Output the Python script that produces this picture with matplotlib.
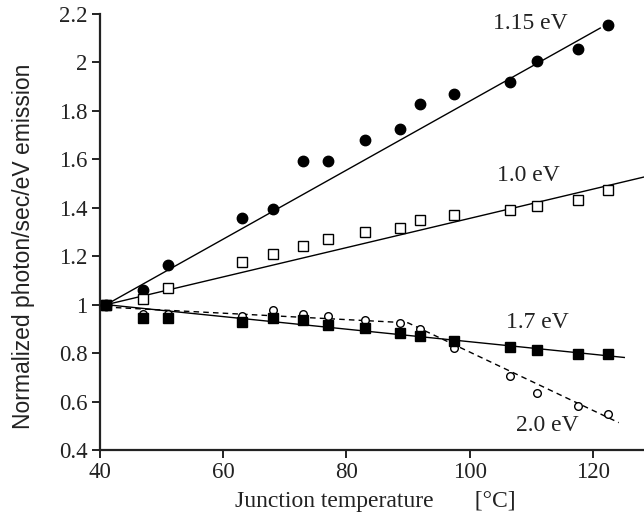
import matplotlib
matplotlib.use("Agg")
import matplotlib.pyplot as plt

# junction temperatures [C] of the measurement points
temps = [41, 47, 51, 63, 68, 73, 77, 83, 88.7, 92, 97.5, 106.5, 111, 117.6, 122.4]

# normalized emission at each photon energy
e_115 = [1.0, 1.06, 1.164, 1.357, 1.396, 1.592, 1.592, 1.679, 1.727, 1.828,
         1.868, 1.919, 2.006, 2.055, 2.154]
e_100 = [1.0, 1.024, 1.069, 1.178, 1.210, 1.241, 1.273, 1.299, 1.318, 1.348,
         1.369, 1.389, 1.406, 1.431, 1.475]
e_170 = [1.0, 0.947, 0.947, 0.930, 0.947, 0.938, 0.917, 0.904, 0.885, 0.870,
         0.848, 0.826, 0.814, 0.796, 0.796]
e_200 = [1.0, 0.96, 0.96, 0.954, 0.978, 0.961, 0.952, 0.937, 0.924, 0.899,
         0.823, 0.706, 0.637, 0.582, 0.550]

# trend lines (end points)
fit_115_t, fit_115_v = [41, 121.2], [1.0, 2.142]
fit_100_t, fit_100_v = [41, 128.3], [1.0, 1.527]
fit_170_t, fit_170_v = [41, 125.1], [1.0, 0.782]
fit_200_t, fit_200_v = [41, 90, 124.2], [0.99, 0.925, 0.513]

labels = ["1.15 eV", "1.0 eV", "1.7 eV", "2.0 eV"]
label_xy = [(109.8, 2.16), (109.6, 1.534), (111.0, 0.925), (112.6, 0.503)]

serif = "Liberation Serif"
ink = "#222222"

fig = plt.figure(figsize=(6.44, 5.22), dpi=100)
ax = fig.add_axes([100 / 644, 72 / 522, 544 / 644, 436 / 522])

ax.plot(fit_115_t, fit_115_v, color="black", lw=1.0)
ax.plot(fit_100_t, fit_100_v, color="black", lw=1.0)
ax.plot(fit_200_t, fit_200_v, color="black", lw=1.0, ls=(0, (4, 3)))
ax.plot(fit_170_t, fit_170_v, color="black", lw=1.0)

ax.plot(temps, e_115, "o", color="black", ms=7.5, zorder=3)
ax.plot(temps, e_100, "s", mfc="white", mec="black", mew=1.0, ms=7, zorder=4)
ax.plot(temps, e_200, "o", mfc="white", mec="black", mew=1.0, ms=5.5, zorder=3)
ax.plot(temps, e_170, "s", color="black", ms=7, zorder=4)

for txt, (tx, ty) in zip(labels, label_xy):
    ax.text(tx, ty, txt, ha="center", va="center", fontsize=17,
            family=serif, color=ink)

ax.set_xlim(40, 128.3)
ax.set_ylim(0.4, 2.2)
ax.set_xticks([40, 60, 80, 100, 120])
ax.set_yticks([0.4, 0.6, 0.8, 1.0, 1.2, 1.4, 1.6, 1.8, 2.0, 2.2])
ax.set_yticklabels(["0.4", "0.6", "0.8", "1", "1.2", "1.4", "1.6", "1.8", "2", "2.2"])

for side in ("top", "right"):
    ax.spines[side].set_visible(False)
for side in ("left", "bottom"):
    ax.spines[side].set_linewidth(1.6)
    ax.spines[side].set_color(ink)

ax.tick_params(direction="out", length=6, width=1.4, colors=ink,
               labelsize=16.5, pad=3)
for lab in ax.get_xticklabels() + ax.get_yticklabels():
    lab.set_family(serif)

ax.set_xlabel("Junction temperature       [\u00b0C]", fontsize=17,
              family=serif, color=ink)
ax.set_ylabel("Normalized photon/sec/eV emission", fontsize=16.5,
              family="Liberation Sans", color=ink)
ax.xaxis.set_label_coords(0.506, -0.095)
ax.yaxis.set_label_coords(-0.12, 0.468)

fig.savefig("out.png", dpi=100)
